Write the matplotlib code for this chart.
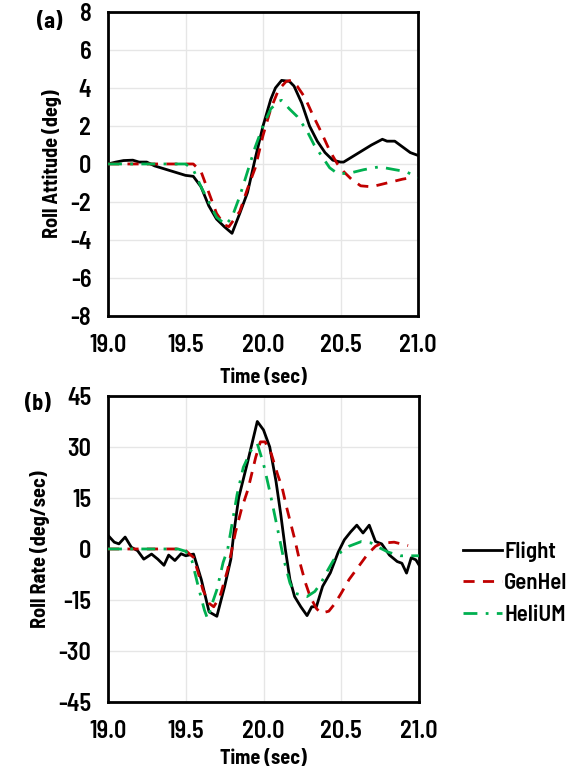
import matplotlib
matplotlib.use('Agg')
import matplotlib.pyplot as plt
import numpy as np

plt.rcParams['font.family'] = ['Barlow Semi Condensed', 'DejaVu Sans']
plt.rcParams['axes.unicode_minus'] = False

# (a) roll attitude
tFa = [19.0, 19.05, 19.1, 19.16, 19.2, 19.25, 19.3, 19.4, 19.5, 19.55, 19.6, 19.65, 19.7, 19.75, 19.8,
       19.85, 19.9, 19.95, 20.0, 20.05, 20.08, 20.12, 20.17, 20.2, 20.25, 20.3, 20.35, 20.4, 20.45,
       20.5, 20.52, 20.6, 20.7, 20.77, 20.8, 20.85, 20.9, 20.95, 21.0]
phiF = [0.0, 0.1, 0.18, 0.2, 0.1, 0.1, -0.1, -0.35, -0.6, -0.65, -1.2, -2.2, -2.9, -3.3, -3.65,
        -2.6, -1.5, 0.3, 2.0, 3.4, 4.0, 4.4, 4.35, 4.1, 3.2, 2.0, 1.2, 0.6, 0.2,
        0.1, 0.1, 0.5, 1.0, 1.3, 1.2, 1.2, 0.9, 0.6, 0.45]
tGa = [19.0, 19.55, 19.6, 19.65, 19.7, 19.75, 19.78, 19.85, 19.9, 19.95, 20.0, 20.05, 20.1, 20.15,
       20.18, 20.22, 20.27, 20.32, 20.38, 20.43, 20.48, 20.52, 20.57, 20.63, 20.7, 20.8, 20.9, 20.97]
phiG = [0.0, 0.0, -0.4, -1.5, -2.6, -3.2, -3.3, -2.5, -1.3, -0.2, 1.5, 2.9, 3.9, 4.35,
        4.4, 4.1, 3.5, 2.6, 1.6, 0.7, 0.0, -0.4, -0.8, -1.15, -1.2, -1.0, -0.8, -0.7]
tHa = [19.0, 19.5, 19.55, 19.6, 19.65, 19.7, 19.76, 19.8, 19.85, 19.9, 19.95, 20.0, 20.05, 20.1,
       20.12, 20.17, 20.22, 20.28, 20.33, 20.38, 20.43, 20.48, 20.55, 20.65, 20.75, 20.85, 20.92, 21.0]
phiH = [0.0, 0.0, -0.3, -1.2, -2.0, -2.8, -3.2, -2.8, -1.7, -0.4, 0.9, 2.0, 2.9, 3.3,
        3.35, 2.9, 2.5, 1.8, 1.0, 0.4, -0.2, -0.5, -0.5, -0.3, -0.15, -0.3, -0.4, -0.7]

# (b) roll rate
tFb = [19.0, 19.04, 19.07, 19.11, 19.15, 19.19, 19.23, 19.28, 19.32, 19.36, 19.39, 19.43, 19.47, 19.5,
       19.55, 19.6, 19.65, 19.7, 19.75, 19.79, 19.81, 19.84, 19.9, 19.96, 20.0, 20.04, 20.08, 20.11,
       20.14, 20.17, 20.2, 20.24, 20.28, 20.31, 20.34, 20.38, 20.43, 20.48, 20.52, 20.56, 20.6, 20.64,
       20.68, 20.72, 20.76, 20.81, 20.86, 20.89, 20.92, 20.95, 20.98, 21.0]
pF = [4.0, 2.0, 1.5, 3.5, 0.5, -0.5, -3.0, -1.5, -3.0, -4.8, -1.8, -3.4, -1.4, -2.0,
      -1.5, -9.0, -18.5, -19.8, -11.0, -3.0, 5.0, 15.0, 26.0, 37.5, 35.0, 30.0, 20.0, 10.5,
      0.0, -9.0, -14.0, -17.0, -19.6, -17.0, -17.0, -11.0, -7.0, -1.0, 2.7, 5.0, 7.0, 4.7,
      7.0, 2.2, 1.5, -1.8, -3.7, -4.2, -7.1, -2.6, -3.2, -4.7]
tGb = [19.0, 19.45, 19.5, 19.55, 19.58, 19.61, 19.65, 19.68, 19.72, 19.77, 19.82, 19.86, 19.9, 19.95,
       19.98, 20.01, 20.05, 20.09, 20.12, 20.15, 20.2, 20.24, 20.27, 20.3, 20.34, 20.37, 20.42, 20.46,
       20.5, 20.55, 20.59, 20.63, 20.67, 20.72, 20.76, 20.84, 20.93]
pG = [0.0, 0.0, -0.5, -2.5, -7.0, -12.0, -16.0, -17.0, -14.0, -6.0, 5.0, 12.0, 17.5, 27.0,
      31.5, 31.5, 28.0, 22.0, 18.0, 12.0, 3.0, -5.0, -10.0, -14.0, -17.5, -18.9, -18.3, -16.0,
      -13.0, -9.0, -6.5, -4.0, -1.5, 0.8, 1.7, 2.0, 1.0]
tHb = [19.0, 19.45, 19.5, 19.54, 19.58, 19.62, 19.64, 19.67, 19.7, 19.74, 19.77, 19.8, 19.83, 19.87,
       19.92, 19.96, 20.0, 20.04, 20.09, 20.13, 20.17, 20.2, 20.28, 20.33, 20.37, 20.41, 20.45, 20.5,
       20.55, 20.63, 20.69, 20.74, 20.8, 20.88, 21.0]
pH = [0.0, 0.0, -0.7, -3.5, -11.0, -18.0, -20.5, -16.0, -12.0, -4.0, 0.0, 8.0, 16.0, 24.0,
      29.0, 31.0, 25.0, 17.0, 6.0, -3.0, -10.0, -13.0, -14.0, -12.5, -10.0, -6.5, -3.3, -0.8,
      0.8, 2.2, 1.8, 0.5, -0.9, -2.0, -2.0]

xticks = [19.0, 19.5, 20.0, 20.5, 21.0]
red = '#C00000'
green = '#00B050'

fig = plt.figure(figsize=(5.78, 7.72), dpi=100)
ax1 = fig.add_axes([0.1869, 0.5907, 0.5363, 0.3938])
ax2 = fig.add_axes([0.1869, 0.0907, 0.5380, 0.3964])

for ax, fl, gh, hu in [(ax1, (tFa, phiF), (tGa, phiG), (tHa, phiH)),
                       (ax2, (tFb, pF), (tGb, pG), (tHb, pH))]:
    ax.plot(fl[0], fl[1], color='black', lw=2.0, label='Flight', zorder=3)
    ax.plot(gh[0], gh[1], color=red, lw=2.0, ls=(0, (4, 3)), label='GenHel', zorder=4)
    ax.plot(hu[0], hu[1], color=green, lw=2.0, ls=(0, (5, 3, 1, 3)), label='HeliUM', zorder=5)
    ax.set_xlim(19.0, 21.0)
    ax.set_xticks(xticks)
    ax.set_xticklabels([f'{v:.1f}' for v in xticks])
    ax.grid(True, color='#e6e6e6', lw=1.0)
    ax.set_axisbelow(True)
    ax.tick_params(length=0, labelsize=17.5)
    ax.tick_params(axis='x', pad=13)
    ax.tick_params(axis='y', pad=12)
    for s in ax.spines.values():
        s.set_linewidth(2.0)

ax1.set_xlabel('Time (sec)', fontsize=14.5, fontweight='bold', labelpad=8)
ax2.set_xlabel('Time (sec)', fontsize=14.5, fontweight='bold', labelpad=4)

ax1.set_ylim(-8, 8)
ax1.set_yticks(np.arange(-8, 9, 2))
ax1.set_ylabel('Roll Attitude (deg)', fontsize=14.5, fontweight='bold', labelpad=6)
ax2.set_ylim(-45, 45)
ax2.set_yticks(np.arange(-45, 46, 15))
ax2.set_ylabel('Roll Rate (deg/sec)', fontsize=14.5, fontweight='bold', labelpad=6)

for ax in (ax1, ax2):
    for lab in ax.get_xticklabels() + ax.get_yticklabels():
        lab.set_fontweight('semibold')

fig.text(0.064, 0.972, '(a)', fontsize=16, fontweight='bold', ha='left', va='center')
fig.text(0.043, 0.477, '(b)', fontsize=16, fontweight='bold', ha='left', va='center')

h, l = ax2.get_legend_handles_labels()
fig.legend(h, l, loc='center left', bbox_to_anchor=(0.785, 0.2448), frameon=False,
           borderaxespad=0, prop={'size': 16.5, 'weight': 'semibold'}, handlelength=1.7,
           handletextpad=0.1, labelspacing=0.5)

fig.savefig('out.png', dpi=100)
